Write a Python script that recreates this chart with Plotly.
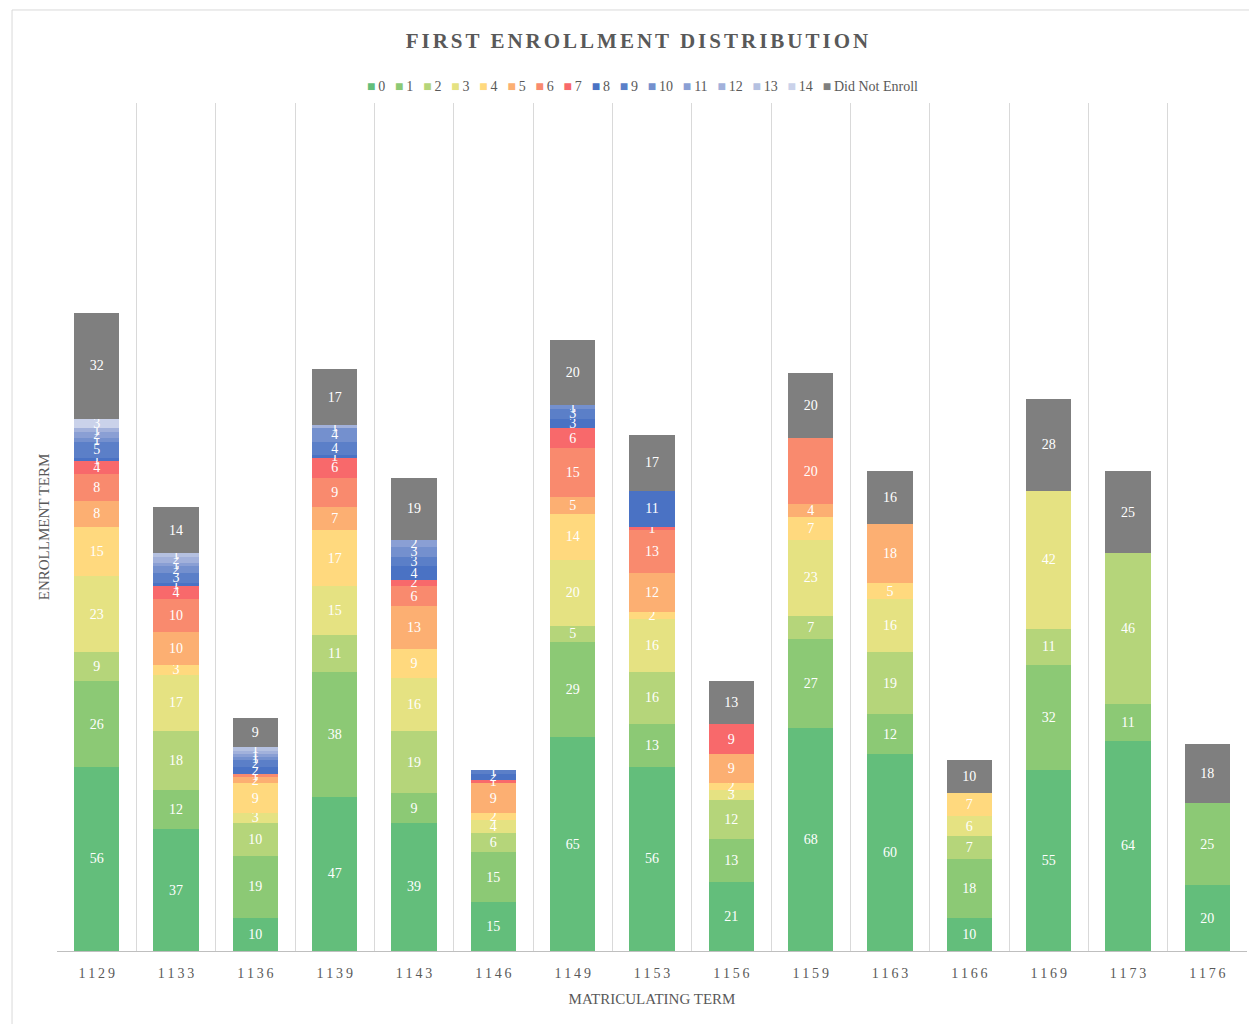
import plotly.graph_objects as go

terms = ["1129", "1133", "1136", "1139", "1143", "1146", "1149", "1153",
         "1156", "1159", "1163", "1166", "1169", "1173", "1176"]

s0 = [56, 37, 10, 47, 39, 15, 65, 56, 21, 68, 60, 10, 55, 64, 20]
s1 = [26, 12, 19, 38, 9, 15, 29, 13, 13, 27, 12, 18, 32, 11, 25]
s2 = [9, 18, 10, 11, 19, 6, 5, 16, 12, 7, 19, 7, 11, 46, 0]
s3 = [23, 17, 3, 15, 16, 4, 20, 16, 3, 23, 16, 6, 42, 0, 0]
s4 = [15, 3, 9, 17, 9, 2, 14, 2, 2, 7, 5, 7, 0, 0, 0]
s5 = [8, 10, 2, 7, 13, 9, 5, 12, 9, 4, 18, 0, 0, 0, 0]
s6 = [8, 10, 1, 9, 6, 0, 15, 13, 0, 20, 0, 0, 0, 0, 0]
s7 = [4, 4, 0, 6, 2, 1, 6, 1, 9, 0, 0, 0, 0, 0, 0]
s8 = [1, 1, 2, 1, 4, 2, 3, 11, 0, 0, 0, 0, 0, 0, 0]
s9 = [5, 3, 2, 4, 3, 1, 3, 0, 0, 0, 0, 0, 0, 0, 0]
s10 = [1, 2, 1, 4, 3, 0, 1, 0, 0, 0, 0, 0, 0, 0, 0]
s11 = [2, 1, 1, 0, 2, 0, 0, 0, 0, 0, 0, 0, 0, 0, 0]
s12 = [1, 2, 1, 1, 0, 0, 0, 0, 0, 0, 0, 0, 0, 0, 0]
s13 = [0, 1, 1, 0, 0, 0, 0, 0, 0, 0, 0, 0, 0, 0, 0]
s14 = [3, 0, 0, 0, 0, 0, 0, 0, 0, 0, 0, 0, 0, 0, 0]
dne = [32, 14, 9, 17, 19, 0, 20, 17, 13, 20, 16, 10, 28, 25, 18]

series_names = ["0", "1", "2", "3", "4", "5", "6", "7", "8", "9", "10",
                "11", "12", "13", "14", "Did Not Enroll"]
series = [s0, s1, s2, s3, s4, s5, s6, s7, s8, s9, s10, s11, s12, s13, s14, dne]
colors = ["#63BE7B", "#8CC975", "#B5D57A", "#E5E282", "#FFD97E", "#FCAF72",
          "#F98A6E", "#F8696B", "#4A72C4", "#5B7FC8", "#7490CE", "#8A9FD4",
          "#A2B1DB", "#B5C1E1", "#CAD2EA", "#7F7F7F"]

font_family = "Liberation Serif, Times New Roman, serif"
gray = "#595959"

fig = go.Figure()
for name, vals, col in zip(series_names, series, colors):
    fig.add_trace(go.Bar(
        x=terms, y=vals, name=name,
        marker=dict(color=col, line=dict(width=0)),
        text=[str(v) if v else "" for v in vals],
        textposition="inside", insidetextanchor="middle", textangle=0,
        textfont=dict(color="white", size=14, family=font_family),
        hoverinfo="x+y+name",
    ))

# legend drawn as one line of text, Excel-style compact spacing
legend_text = "\u00a0\u00a0\u2009".join(
    f'<span style="color:{c}">■</span>\u2009{n}' for n, c in zip(series_names, colors))
fig.add_annotation(text=legend_text, xref="paper", yref="paper", x=0.4916, y=1.020,
                   xanchor="center", yanchor="middle", showarrow=False,
                   font=dict(size=14, color=gray, family=font_family))

fig.update_layout(
    barmode="stack", bargap=0.43,
    width=1241, height=1016,
    paper_bgcolor="white", plot_bgcolor="white",
    margin=dict(l=49, r=2, t=95, b=73),
    font=dict(family=font_family, color=gray, size=14),
    uniformtext=dict(minsize=14, mode="show"),
    title=dict(text='<b><span style="letter-spacing:3px">FIRST ENROLLMENT DISTRIBUTION</span></b>',
               x=0.508, xanchor="center", y=0.9675, yanchor="middle",
               font=dict(size=21, color=gray, family=font_family)),
    showlegend=False,
)
fig.update_xaxes(
    type="category", tickson="boundaries", ticklen=0, ticklabelstandoff=9,
    showgrid=True, gridcolor="#D9D9D9", gridwidth=1,
    showline=True, linecolor="#BFBFBF", linewidth=1,
    tickfont=dict(size=14, color=gray),
    ticktext=["\u2009".join(t) for t in terms], tickvals=terms,
    title=dict(text="MATRICULATING TERM", font=dict(size=15, color=gray), standoff=13),
)
fig.update_yaxes(
    range=[0, 258], showgrid=False, zeroline=False, showticklabels=False,
    title=dict(text="ENROLLMENT TERM", font=dict(size=15, color=gray), standoff=2),
)
# outer chart border
fig.add_shape(type="line", xref="paper", yref="paper", x0=-0.0378, x1=-0.0378,
              y0=-0.097, y1=1.1097, line=dict(color="#D9D9D9", width=1))
fig.add_shape(type="line", xref="paper", yref="paper", x0=-0.0378, x1=1.01,
              y0=1.1097, y1=1.1097, line=dict(color="#D9D9D9", width=1))

fig.write_html("out.html")
